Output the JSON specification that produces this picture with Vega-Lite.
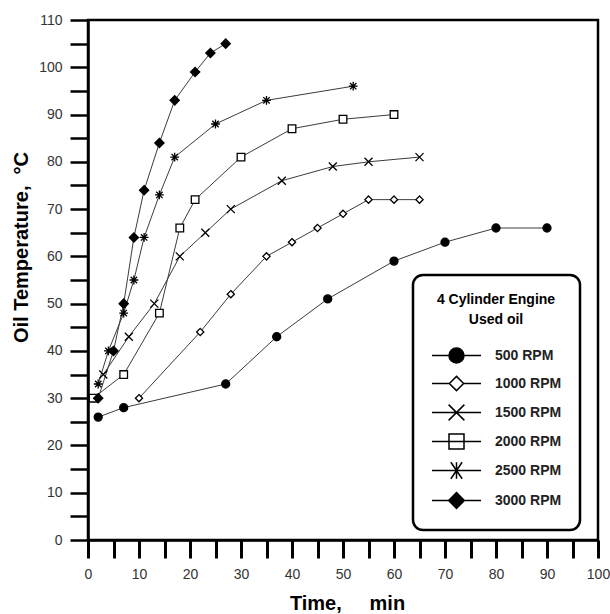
{
  "$schema": "https://vega.github.io/schema/vega-lite/v6.json",
  "width": 510,
  "height": 520,
  "autosize": "none",
  "padding": {"left": 88, "top": 20, "right": 12, "bottom": 74},
  "background": "white",
  "config": {
    "font": "Liberation Sans",
    "view": {"stroke": "black", "strokeWidth": 2.5},
    "legend": {"strokeColor": "black", "strokeWidth": 2.5, "cornerRadius": 10, "padding": 18}
  },
  "data": {
    "values": [
      {"rpm": "500 RPM", "t": 2, "temp": 26},
      {"rpm": "500 RPM", "t": 7, "temp": 28},
      {"rpm": "500 RPM", "t": 27, "temp": 33},
      {"rpm": "500 RPM", "t": 37, "temp": 43},
      {"rpm": "500 RPM", "t": 47, "temp": 51},
      {"rpm": "500 RPM", "t": 60, "temp": 59},
      {"rpm": "500 RPM", "t": 70, "temp": 63},
      {"rpm": "500 RPM", "t": 80, "temp": 66},
      {"rpm": "500 RPM", "t": 90, "temp": 66},
      {"rpm": "1000 RPM", "t": 10, "temp": 30},
      {"rpm": "1000 RPM", "t": 22, "temp": 44},
      {"rpm": "1000 RPM", "t": 28, "temp": 52},
      {"rpm": "1000 RPM", "t": 35, "temp": 60},
      {"rpm": "1000 RPM", "t": 40, "temp": 63},
      {"rpm": "1000 RPM", "t": 45, "temp": 66},
      {"rpm": "1000 RPM", "t": 50, "temp": 69},
      {"rpm": "1000 RPM", "t": 55, "temp": 72},
      {"rpm": "1000 RPM", "t": 60, "temp": 72},
      {"rpm": "1000 RPM", "t": 65, "temp": 72},
      {"rpm": "1500 RPM", "t": 3, "temp": 35},
      {"rpm": "1500 RPM", "t": 8, "temp": 43},
      {"rpm": "1500 RPM", "t": 13, "temp": 50},
      {"rpm": "1500 RPM", "t": 18, "temp": 60},
      {"rpm": "1500 RPM", "t": 23, "temp": 65},
      {"rpm": "1500 RPM", "t": 28, "temp": 70},
      {"rpm": "1500 RPM", "t": 38, "temp": 76},
      {"rpm": "1500 RPM", "t": 48, "temp": 79},
      {"rpm": "1500 RPM", "t": 55, "temp": 80},
      {"rpm": "1500 RPM", "t": 65, "temp": 81},
      {"rpm": "2000 RPM", "t": 1, "temp": 30},
      {"rpm": "2000 RPM", "t": 7, "temp": 35},
      {"rpm": "2000 RPM", "t": 14, "temp": 48},
      {"rpm": "2000 RPM", "t": 18, "temp": 66},
      {"rpm": "2000 RPM", "t": 21, "temp": 72},
      {"rpm": "2000 RPM", "t": 30, "temp": 81},
      {"rpm": "2000 RPM", "t": 40, "temp": 87},
      {"rpm": "2000 RPM", "t": 50, "temp": 89},
      {"rpm": "2000 RPM", "t": 60, "temp": 90},
      {"rpm": "2500 RPM", "t": 2, "temp": 33},
      {"rpm": "2500 RPM", "t": 4, "temp": 40},
      {"rpm": "2500 RPM", "t": 7, "temp": 48},
      {"rpm": "2500 RPM", "t": 9, "temp": 55},
      {"rpm": "2500 RPM", "t": 11, "temp": 64},
      {"rpm": "2500 RPM", "t": 14, "temp": 73},
      {"rpm": "2500 RPM", "t": 17, "temp": 81},
      {"rpm": "2500 RPM", "t": 25, "temp": 88},
      {"rpm": "2500 RPM", "t": 35, "temp": 93},
      {"rpm": "2500 RPM", "t": 52, "temp": 96},
      {"rpm": "3000 RPM", "t": 2, "temp": 30},
      {"rpm": "3000 RPM", "t": 5, "temp": 40},
      {"rpm": "3000 RPM", "t": 7, "temp": 50},
      {"rpm": "3000 RPM", "t": 9, "temp": 64},
      {"rpm": "3000 RPM", "t": 11, "temp": 74},
      {"rpm": "3000 RPM", "t": 14, "temp": 84},
      {"rpm": "3000 RPM", "t": 17, "temp": 93},
      {"rpm": "3000 RPM", "t": 21, "temp": 99},
      {"rpm": "3000 RPM", "t": 24, "temp": 103},
      {"rpm": "3000 RPM", "t": 27, "temp": 105}
    ]
  },
  "encoding": {
    "x": {
      "field": "t",
      "type": "quantitative",
      "scale": {"domain": [0, 100], "nice": false, "zero": false},
      "axis": {
        "title": "Time,\u00a0\u00a0\u00a0\u00a0 min",
        "values": [0, 5, 10, 15, 20, 25, 30, 35, 40, 45, 50, 55, 60, 65, 70, 75, 80, 85, 90, 95, 100],
        "labelExpr": "datum.value % 10 === 0 ? datum.label : ''",
        "ticks": true,
        "tickSize": 18,
        "tickWidth": 3,
        "tickColor": "#000000",
        "tickCap": "butt",
        "domainColor": "black",
        "domainWidth": 2.5,
        "grid": false,
        "labelFontSize": 14,
        "labelColor": "#333333",
        "labelPadding": 9,
        "labelOverlap": false,
        "labelFlush": false,
        "titleFontSize": 20,
        "titleFontWeight": "bold",
        "titleColor": "black",
        "titleX": 259,
        "titleY": 63,
        "titleAlign": "center",
        "titleBaseline": "middle",
        "zindex": 1,
        "encode": {
          "ticks": {"update": {"y": {"value": 0}, "y2": {"signal": "datum.value % 10 === 0 ? 18 : 10"}, "stroke": {"value": "#000000"}, "strokeWidth": {"value": 2.5}, "opacity": {"value": 1}, "strokeOpacity": {"value": 1}}}
        }
      }
    },
    "y": {
      "field": "temp",
      "type": "quantitative",
      "scale": {"domain": [0, 110], "nice": false, "zero": false},
      "axis": {
        "title": "Oil Temperature,\u00a0 °C",
        "values": [0, 5, 10, 15, 20, 25, 30, 35, 40, 45, 50, 55, 60, 65, 70, 75, 80, 85, 90, 95, 100, 105, 110],
        "labelExpr": "datum.value % 10 === 0 ? datum.label : ''",
        "ticks": true,
        "tickSize": 18,
        "tickWidth": 2.5,
        "tickColor": "black",
        "domainColor": "black",
        "domainWidth": 2.5,
        "grid": false,
        "labelFontSize": 14,
        "labelColor": "#333333",
        "labelPadding": 8,
        "labelOverlap": false,
        "labelFlush": false,
        "titleFontSize": 20,
        "titleFontWeight": "bold",
        "titleColor": "black",
        "titleAngle": 270,
        "titleX": -67,
        "titleY": 227,
        "titleAlign": "center",
        "titleBaseline": "middle",
        "zindex": 1,
        "encode": {
          "ticks": {"update": {"x2": {"signal": "datum.value % 10 === 0 ? -18 : -10"}}}
        }
      }
    }
  },
  "layer": [
    {
      "mark": {"type": "line", "stroke": "#3c3c3c", "strokeWidth": 1},
      "encoding": {"detail": {"field": "rpm"}}
    },
    {
      "mark": {"type": "point", "size": 64, "stroke": "black", "strokeWidth": 1.3, "opacity": 1},
      "encoding": {
        "shape": {
          "field": "rpm",
          "scale": {
            "domain": ["500 RPM", "1000 RPM", "1500 RPM", "2000 RPM", "2500 RPM", "3000 RPM"],
            "range": [
              "M1,0A1,1,0,1,1,-1,0A1,1,0,1,1,1,0Z",
              "M0,-0.9L0.9,0L0,0.9L-0.9,0Z",
              "M-1,-1L1,1M-1,1L1,-1",
              "M-0.95,-0.95H0.95V0.95H-0.95Z",
              "M-1.1,0L1.1,0M0,-1.1L0,1.1M-0.8,-0.8L0.8,0.8M-0.8,0.8L0.8,-0.8",
              "M0,-1.15L1.15,0L0,1.15L-1.15,0Z"
            ]
          },
          "legend": null
        },
        "fill": {
          "field": "rpm",
          "scale": {
            "domain": ["500 RPM", "1000 RPM", "1500 RPM", "2000 RPM", "2500 RPM", "3000 RPM"],
            "range": ["black", "white", "transparent", "white", "transparent", "black"]
          },
          "legend": null
        }
      }
    },
    {
      "mark": {"type": "point", "size": 0, "stroke": "black", "strokeWidth": 1.5, "opacity": 1},
      "encoding": {
        "shape": {
          "field": "rpm",
          "scale": {
            "domain": ["500 RPM", "1000 RPM", "1500 RPM", "2000 RPM", "2500 RPM", "3000 RPM"],
            "range": [
              "M-3.27,0L3.27,0M1,0A1,1,0,1,1,-1,0A1,1,0,1,1,1,0Z",
              "M-3.27,0L-0.95,0M0.95,0L3.27,0M0,-0.95L0.95,0L0,0.95L-0.95,0Z",
              "M-3.27,0L3.27,0M-1.05,-1.05L1.05,1.05M-1.05,1.05L1.05,-1.05",
              "M-3.27,0L3.27,0M-1,-1H1V1H-1Z",
              "M-3.27,0L3.27,0M0,-1.1L0,1.1M-0.75,-1.1L0.75,1.1M-0.75,1.1L0.75,-1.1",
              "M-3.27,0L3.27,0M0,-1.05L1.05,0L0,1.05L-1.05,0Z"
            ]
          },
          "legend": {
            "title": ["4 Cylinder Engine", "Used oil"],
            "orient": "none",
            "legendX": 325,
            "legendY": 255,
            "titleFontSize": 14,
            "titleFontWeight": "bold",
            "titleColor": "black",
            "titleLineHeight": 20,
            "titleAnchor": "middle",
            "titleAlign": "center",
            "titlePadding": 20,
            "symbolSize": 225,
            "symbolStrokeWidth": 1.5,
            "symbolStrokeColor": "black",
            "symbolOpacity": 1,
            "symbolOffset": 17,
            "labelOffset": 30,
            "labelFontSize": 14,
            "labelFontWeight": "bold",
            "labelColor": "#222222",
            "rowPadding": 7,
            "encode": {
              "symbols": {"update": {"stroke": {"value": "black"}, "strokeWidth": {"value": 1.5}, "opacity": {"value": 1}}}
            }
          }
        },
        "fill": {
          "field": "rpm",
          "scale": {
            "domain": ["500 RPM", "1000 RPM", "1500 RPM", "2000 RPM", "2500 RPM", "3000 RPM"],
            "range": ["black", "white", "transparent", "white", "transparent", "black"]
          },
          "legend": {
            "title": ["4 Cylinder Engine", "Used oil"],
            "orient": "none",
            "legendX": 325,
            "legendY": 255,
            "titleFontSize": 14,
            "titleFontWeight": "bold",
            "titleColor": "black",
            "titleLineHeight": 20,
            "titleAnchor": "middle",
            "titleAlign": "center",
            "titlePadding": 20,
            "symbolSize": 225,
            "symbolStrokeWidth": 1.5,
            "symbolStrokeColor": "black",
            "symbolOpacity": 1,
            "symbolOffset": 17,
            "labelOffset": 30,
            "labelFontSize": 14,
            "labelFontWeight": "bold",
            "labelColor": "#222222",
            "rowPadding": 7,
            "encode": {
              "symbols": {"update": {"stroke": {"value": "black"}, "strokeWidth": {"value": 1.5}, "opacity": {"value": 1}}}
            }
          }
        }
      }
    }
  ],
  "resolve": {"scale": {"shape": "independent", "fill": "independent"}}
}
